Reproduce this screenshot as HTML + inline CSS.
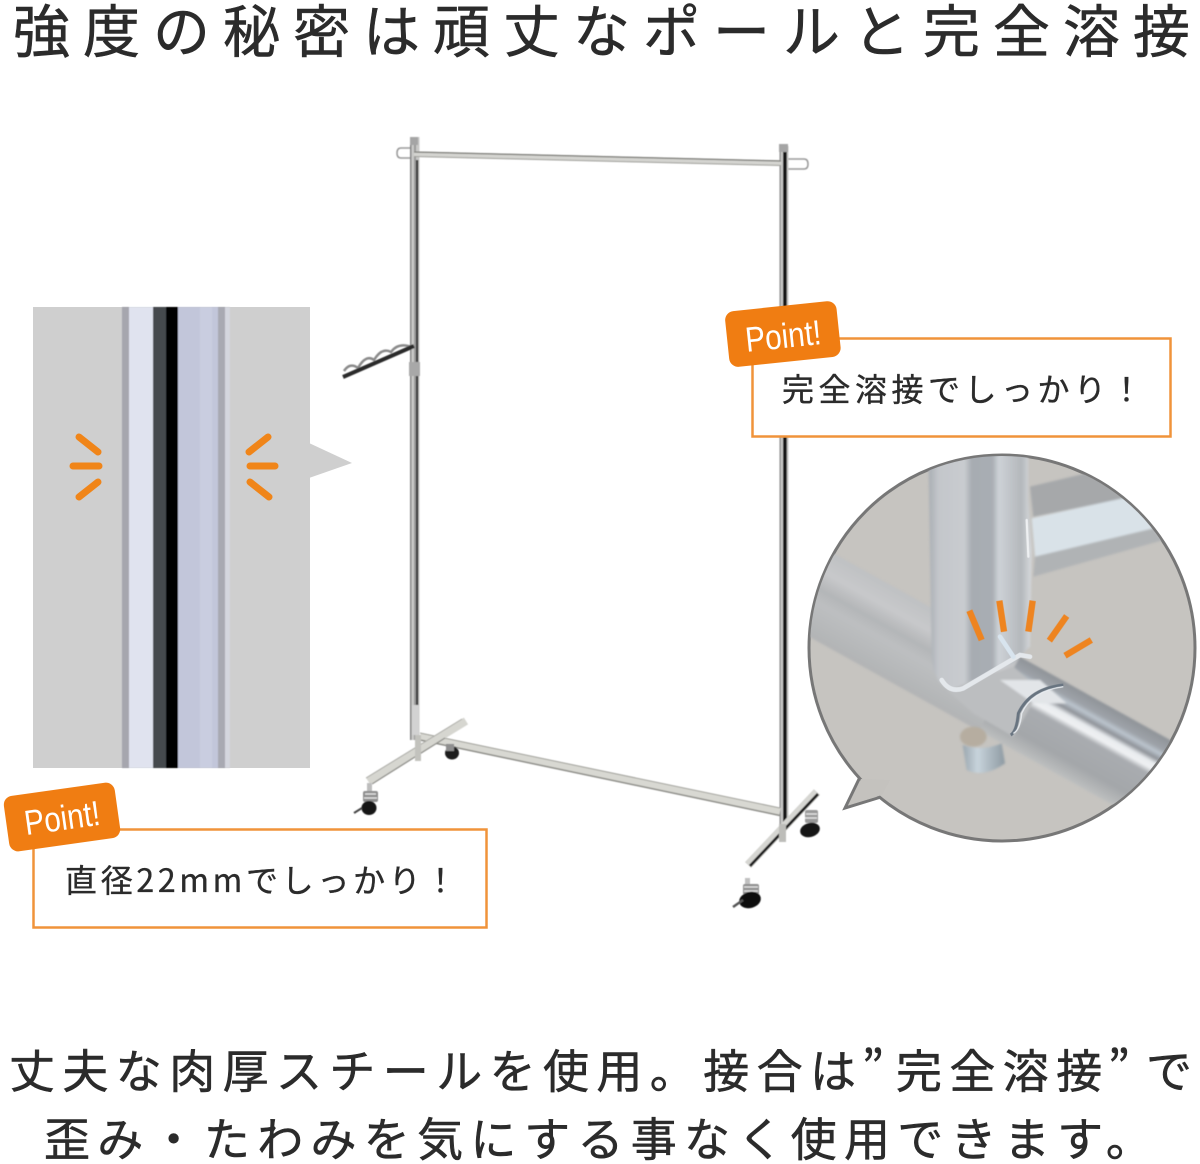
<!DOCTYPE html>
<html lang="ja"><head><meta charset="utf-8"><title>強度の秘密は頑丈なポールと完全溶接</title>
<style>
html,body{margin:0;padding:0;background:#fff}
svg{display:block}
text{font-family:"Liberation Sans","Noto Sans CJK JP",sans-serif}
.j{font-family:"Noto Sans CJK JP","Liberation Sans",sans-serif;fill:#2b2b2b;stroke:#2b2b2b;stroke-width:.55px}
.p{fill:#fff;font-size:35px;font-family:"Liberation Sans",sans-serif;text-anchor:middle}
</style></head><body>
<svg width="1200" height="1164" viewBox="0 0 1200 1164" xmlns="http://www.w3.org/2000/svg">
<defs>
<linearGradient id="pole" x1="0" x2="1" y1="0" y2="0">
<stop offset="0" stop-color="#a8adb3"/><stop offset=".1" stop-color="#c4c7cb"/><stop offset=".35" stop-color="#c9ccd0"/><stop offset=".42" stop-color="#a7acb2"/><stop offset=".62" stop-color="#a9aeb4"/><stop offset=".68" stop-color="#ced2d7"/><stop offset=".9" stop-color="#b4b8bc"/><stop offset="1" stop-color="#d8dbde"/>
</linearGradient>
<linearGradient id="barL" x1="0" x2="0" y1="0" y2="1">
<stop offset="0" stop-color="#bfc1c3"/><stop offset=".25" stop-color="#c8c9cb"/><stop offset=".45" stop-color="#b4b6b8"/><stop offset=".6" stop-color="#bdbfc1"/><stop offset="1" stop-color="#b2b4b5"/>
</linearGradient>
<linearGradient id="barR" x1="0" x2="0" y1="0" y2="1">
<stop offset="0" stop-color="#8f9398"/><stop offset=".14" stop-color="#9ea3a9"/><stop offset=".2" stop-color="#bcc5ce"/><stop offset=".27" stop-color="#8e9298"/><stop offset=".33" stop-color="#e8ebee"/><stop offset=".4" stop-color="#f0f2f4"/><stop offset=".47" stop-color="#a9acb0"/><stop offset=".8" stop-color="#a4a7aa"/><stop offset="1" stop-color="#bdbfbf"/>
</linearGradient>
<linearGradient id="bolt" x1="0" x2="1" y1="0" y2="0">
<stop offset="0" stop-color="#9aa6ae"/><stop offset=".35" stop-color="#c8d4dc"/><stop offset="1" stop-color="#8e9aa2"/>
</linearGradient>
<clipPath id="circ"><circle cx="1002" cy="648" r="192"/></clipPath>
<filter id="soft"><feGaussianBlur stdDeviation="3.5"/></filter>
<filter id="s2"><feGaussianBlur stdDeviation="0.45"/></filter>
</defs>

<text class="j" x="13" y="52" font-size="57" letter-spacing="13">強度の秘密は頑丈なポールと完全溶接</text>

<!-- left panel -->
<rect x="33" y="307" width="277" height="461" fill="#cfcfcf"/>
<polygon points="309,443 352,463 309,478" fill="#cfcfcf"/>
<g filter="url(#s2)">
<rect x="122" y="307" width="7" height="461" fill="#a6a6ae"/>
<rect x="129" y="307" width="24" height="461" fill="#e0e3ef"/>
<rect x="153" y="307" width="13" height="461" fill="#45494d"/>
<rect x="166" y="307" width="12" height="461" fill="#040406"/>
<rect x="178" y="307" width="40" height="461" fill="#c2c6da"/>
<rect x="200" y="307" width="12" height="461" fill="#c9cde0"/>
<rect x="218" y="307" width="7" height="461" fill="#a8a9b2"/>
<rect x="225" y="307" width="5" height="461" fill="#d4d6de"/>
</g>
<g stroke="#f08519" stroke-width="7" stroke-linecap="round">
<line x1="79" y1="437" x2="98" y2="452"/><line x1="73" y1="466" x2="99" y2="466"/><line x1="98" y1="482" x2="79" y2="497"/>
<line x1="268" y1="437" x2="249" y2="452"/><line x1="250" y1="466" x2="275" y2="466"/><line x1="250" y1="482" x2="269" y2="497"/>
</g>

<!-- rack -->
<g fill="none" filter="url(#s2)">
<!-- hooks -->
<path d="M410 148H401Q397 148 397 153Q397 158 401 158H410" stroke="#999" stroke-width="1.500"/>
<path d="M788 159H804Q808 159 808 164Q808 169 804 169H788" stroke="#999" stroke-width="1.500"/>
<!-- left pole -->
<rect x="410" y="137" width="9.500" height="603" fill="#c9c9c7"/>
<rect x="410" y="137" width="1.500" height="603" fill="#858585"/>
<rect x="414" y="137" width="2" height="603" fill="#9a9a9a"/>
<rect x="416" y="160" width="2.200" height="580" fill="#333"/>
<rect x="410" y="137" width="8" height="8" fill="#a5a5a5"/>
<rect x="409" y="362" width="11" height="14" fill="#a8a8a8"/>
<rect x="412" y="705" width="7" height="30" fill="#d2d2d2"/>
<!-- right pole -->
<rect x="779.500" y="146" width="9" height="680" fill="#c9c9c7"/>
<rect x="779.500" y="146" width="1.200" height="680" fill="#8a8a8a"/>
<rect x="783" y="152" width="3.800" height="672" fill="#141414"/>
<rect x="779" y="144" width="9" height="8" fill="#a5a5a5"/>
<!-- top bar -->
<line x1="414" y1="154" x2="781" y2="163" stroke="#d4d4d0" stroke-width="5.500"/>
<line x1="414" y1="152" x2="781" y2="161" stroke="#7a7a76" stroke-width="1.300"/>
<line x1="414" y1="156.500" x2="781" y2="165.500" stroke="#a0a09b" stroke-width="1"/>
<!-- side arm -->
<path d="M344 371Q350 362 358 368Q366 354 374 360Q382 347 391 352Q398 342 412 347" stroke="#8a8a8a" stroke-width="2.500"/>
<line x1="343" y1="377" x2="414" y2="346" stroke="#2c2c2c" stroke-width="4"/>
<!-- lower bar -->
<line x1="420" y1="736.500" x2="780" y2="812" stroke="#d8d8d2" stroke-width="8"/>
<line x1="420" y1="733" x2="780" y2="808" stroke="#a2a29c" stroke-width="1"/>
<line x1="420" y1="740" x2="780" y2="815.500" stroke="#8e8e89" stroke-width="1.500"/>
<!-- left foot -->
<line x1="466" y1="721" x2="368" y2="781" stroke="#d6d6d0" stroke-width="8"/>
<line x1="462" y1="719" x2="366" y2="778" stroke="#aaaaa5" stroke-width="1"/>
<line x1="445" y1="738" x2="372" y2="784" stroke="#8f8f8a" stroke-width="1.300"/>
<rect x="415" y="735" width="6" height="26" fill="#c2c2bd"/>
<!-- right foot -->
<line x1="817" y1="792" x2="748" y2="865" stroke="#d6d6d2" stroke-width="8.500"/>
<line x1="818" y1="794" x2="750" y2="866" stroke="#1c1c1c" stroke-width="2.800"/>
<rect x="779" y="824" width="7" height="18" fill="#bdbdb9"/>
</g>
<!-- casters -->
<g filter="url(#s2)">
<ellipse cx="452" cy="753" rx="7" ry="6.500" fill="#1c1c1c"/>
<rect x="446" y="744" width="8" height="7" fill="#8f8f8f"/>
<rect x="367" y="783" width="5" height="8" fill="#bdbdbd"/>
<rect x="363" y="791" width="15" height="11" rx="2" fill="#8d8d8d"/>
<path d="M365 794H376M364 798H377" stroke="#e2e2e2" stroke-width="1.500"/>
<ellipse cx="369" cy="808" rx="7.500" ry="7" fill="#171717"/>
<line x1="354" y1="813" x2="362" y2="808" stroke="#444" stroke-width="2"/>
<rect x="805" y="810" width="13" height="13" rx="2" fill="#9a9a9a"/>
<path d="M806 814H817M805 818H817" stroke="#e2e2e2" stroke-width="1.500"/>
<ellipse cx="810" cy="830" rx="10" ry="7" fill="#151515" transform="rotate(-15 810 830)"/>
<rect x="745" y="878" width="5" height="8" fill="#c0c0c0"/>
<rect x="743" y="884" width="16" height="11" rx="2" fill="#8f8f8f"/>
<path d="M744 887H758M744 891H758" stroke="#e2e2e2" stroke-width="1.500"/>
<ellipse cx="750" cy="900" rx="11" ry="8" fill="#0e0e0e" transform="rotate(-15 750 900)"/>
<line x1="733" y1="907" x2="743" y2="900" stroke="#555" stroke-width="2.500"/>
</g>

<!-- right callout -->
<rect x="752.500" y="338.500" width="418" height="98" fill="#fff" stroke="#f0933a" stroke-width="2.500"/>
<g transform="rotate(-6 783 335)">
<rect x="727" y="306" width="112" height="56" rx="9" fill="#f07d12"/>
<text class="p" x="783" y="348" textLength="76" lengthAdjust="spacingAndGlyphs">Point!</text>
</g>
<text class="j" x="782" y="401" font-size="32" letter-spacing="4.500" style="stroke-width:.35px">完全溶接でしっかり！</text>

<!-- left callout -->
<rect x="33.500" y="829.500" width="453" height="98" fill="#fff" stroke="#f0933a" stroke-width="2.500"/>
<g transform="rotate(-8 62 817)">
<rect x="6" y="789" width="112" height="56" rx="9" fill="#f07d12"/>
<text class="p" x="62" y="830" textLength="76" lengthAdjust="spacingAndGlyphs">Point!</text>
</g>
<text class="j" x="65" y="892" font-size="32" letter-spacing="3.700" style="stroke-width:.35px">直径22mmでしっかり！</text>

<!-- circle -->
<polygon points="860,777 845,808 881,797" fill="#c4c2be" stroke="#777" stroke-width="3" stroke-linejoin="miter"/>
<circle cx="1002" cy="648" r="193" fill="#c6c4c0" stroke="#777" stroke-width="3"/>
<polygon points="861,779 849,805 882,795 890,780" fill="#c4c2be"/>
<g clip-path="url(#circ)">
<g transform="translate(800 450) scale(.33333)">
<g filter="url(#soft)">
<!-- back bars -->
<polygon points="690,110 900,60 1000,140 700,200" fill="#a6a8aa"/>
<polygon points="695,205 990,140 1060,235 705,320" fill="#d9e2e8"/>
<polygon points="705,320 1060,235 1090,270 700,380" fill="#b0b3b5"/>
<!-- main bar (rotated) -->
<g transform="translate(100 310) rotate(29)">
<rect x="-300" y="0" width="960" height="254" fill="url(#barL)"/>
<rect x="640" y="0" width="800" height="254" fill="url(#barR)"/>
</g>
<!-- junction blend -->
<polygon points="440,720 640,650 720,720 640,860 520,790" fill="#bcbec0"/>
<polygon points="600,690 720,690 800,760 700,760" fill="#e2e5e8"/>
<!-- bolt -->
<ellipse cx="520" cy="860" rx="40" ry="30" fill="#b6ada0"/>
<path d="M488 885Q545 905 605 880L615 940Q550 985 500 960Z" fill="url(#bolt)"/>
<!-- vertical pole -->
<path d="M385 0H685V150L695 300L690 590L640 640L450 720Q400 700 395 620Z" fill="url(#pole)"/>
</g>
<!-- weld -->
<path d="M425 690Q450 730 490 715L660 615L690 620" fill="none" stroke="#e4e8ec" stroke-width="14" stroke-linecap="round"/>
<path d="M600 560L640 620" stroke="#d8e4ee" stroke-width="14" stroke-linecap="round"/>
<path d="M680 210L685 320" stroke="#eef0f2" stroke-width="7" stroke-linecap="round"/>
<!-- arc mark -->
<path d="M632 855Q650 845 655 790Q690 715 790 705" fill="none" stroke="#687480" stroke-width="9"/>
<path d="M640 850Q660 840 665 790Q695 722 790 710" fill="none" stroke="#e8ecf0" stroke-width="4"/>
<!-- ticks -->
<g stroke="#ee8420" stroke-width="19" stroke-linecap="butt">
<line x1="508" y1="482" x2="545" y2="570"/>
<line x1="598" y1="452" x2="612" y2="545"/>
<line x1="698" y1="452" x2="685" y2="545"/>
<line x1="800" y1="498" x2="748" y2="572"/>
<line x1="874" y1="570" x2="795" y2="617"/>
</g>
</g>
</g>

<!-- bottom text -->
<text class="j" y="1088" font-size="46" letter-spacing="7.400"><tspan x="9">丈夫な肉厚スチールを使用。接合は</tspan><tspan x="862">”</tspan><tspan x="896">完全溶接</tspan><tspan x="1108">”</tspan><tspan x="1146">で</tspan></text>
<text class="j" x="44" y="1156" font-size="46" letter-spacing="7.300">歪み・たわみを気にする事なく使用できます。</text>
</svg>
</body></html>
